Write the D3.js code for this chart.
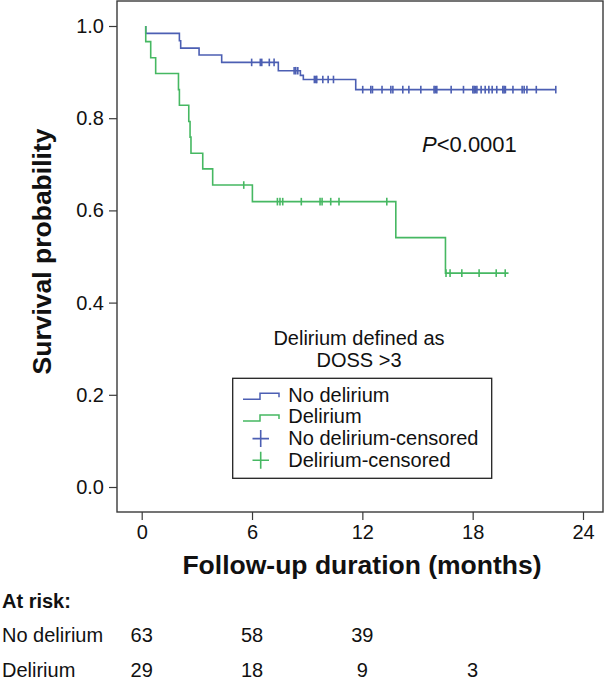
<!DOCTYPE html>
<html>
<head>
<meta charset="utf-8">
<script src="https://cdn.jsdelivr.net/npm/d3@7"></script>
<style>
  html, body { margin: 0; padding: 0; background: #fff; }
  svg { display: block; font-family: "Liberation Sans", Arial, Helvetica, sans-serif; }
</style>
</head>
<body>
<svg id="chart" width="608" height="687"></svg>
<script>
// ---- data ----
const xTicks = [0, 6, 12, 18, 24];
const yTicks = [0.0, 0.2, 0.4, 0.6, 0.8, 1.0];

const noDelStart = 0.22;
const noDelEventTimes = [0.22, 2.05, 2.12, 3.12, 4.35, 7.43, 8.63, 8.79, 11.64];
const noDelEventSurv  = [0.984, 0.968, 0.952, 0.937, 0.921, 0.903, 0.893, 0.884, 0.862];
const noDelCensor = [5.98, 6.45, 6.53, 6.94, 7.2, 8.29, 8.38, 8.49, 9.39, 9.47, 9.52, 9.85, 10.14, 10.43,
  12.02, 12.46, 12.55, 13.07, 13.55, 13.66, 14.20, 14.53, 15.18, 15.90, 15.97, 16.05, 16.83, 17.50,
  18.01, 18.08, 18.15, 18.23, 18.46, 18.68, 18.88, 19.06, 19.31, 19.64, 19.71, 19.78, 20.19, 20.69,
  20.80, 20.95, 21.46, 22.52];
const noDelEnd = 22.52;

const delStart = 0.22;
const delEventTimes = [0.22, 0.49, 0.76, 2.0, 2.05, 2.56, 2.63, 2.68, 3.32, 3.86, 6.02, 13.82, 16.52];
const delEventSurv  = [0.966, 0.931, 0.897, 0.862, 0.828, 0.793, 0.759, 0.724, 0.690, 0.655, 0.619, 0.541, 0.464];
const delCensor = [5.55, 7.38, 7.52, 7.67, 8.68, 9.70, 9.81, 10.28, 10.73, 13.33, 16.55, 16.77, 17.41, 18.35, 19.28, 19.77];
const delEnd = 19.95;

const riskGroups = ["No delirium", "Delirium"];
const riskTimes = [0, 6, 12, 18];
const riskNoDel = [63, 58, 39, null];
const riskDel = [29, 18, 9, 3];

const legendTitle = ["Delirium defined as", "DOSS >3"];
const legendLabels = ["No delirium", "Delirium", "No delirium-censored", "Delirium-censored"];
const pText = ["P", "<0.0001"];

// ---- layout ----
const BLUE = "#4c5fb3", GREEN = "#46b862";
const frame = { left: 117, right: 603, top: 1, bottom: 512 };
const svg = d3.select("#chart");

const x = d3.scaleLinear().domain([0, 24]).range([141.7, 583]);
const y = d3.scaleLinear().domain([0, 1]).range([487, 26]);

// frame
svg.append("rect")
  .attr("x", frame.left).attr("y", frame.top)
  .attr("width", frame.right - frame.left).attr("height", frame.bottom - frame.top)
  .attr("fill", "none").attr("stroke", "#3a3a3a").attr("stroke-width", 1.4);

// y axis
const yAxis = d3.axisLeft(y).tickValues(yTicks).tickFormat(d3.format(".1f")).tickSize(8).tickPadding(5);
const gy = svg.append("g").attr("transform", `translate(${frame.left},0)`).call(yAxis);
gy.select(".domain").remove();
gy.selectAll(".tick line").attr("stroke", "#3a3a3a").attr("stroke-width", 1.2);
gy.selectAll(".tick text").attr("font-size", 20).attr("fill", "#111")
  .attr("font-family", "Liberation Sans, Arial, sans-serif");

// x axis
const xAxis = d3.axisBottom(x).tickValues(xTicks).tickFormat(d3.format("d")).tickSize(8).tickPadding(5);
const gx = svg.append("g").attr("transform", `translate(0,${frame.bottom})`).call(xAxis);
gx.select(".domain").remove();
gx.selectAll(".tick line").attr("stroke", "#3a3a3a").attr("stroke-width", 1.2);
gx.selectAll(".tick text").attr("font-size", 20).attr("fill", "#111")
  .attr("font-family", "Liberation Sans, Arial, sans-serif");

// axis titles
svg.append("text")
  .attr("transform", "translate(51,251.5) rotate(-90)")
  .attr("text-anchor", "middle").attr("font-size", 26.5).attr("font-weight", "bold")
  .attr("fill", "#111").text("Survival probability");
svg.append("text")
  .attr("x", 362).attr("y", 574)
  .attr("text-anchor", "middle").attr("font-size", 26.5).attr("font-weight", "bold")
  .attr("fill", "#111").text("Follow-up duration (months)");

// curves
function stepPoints(start, times, surv, end) {
  const pts = [[start, 1.0]];
  times.forEach((t, i) => pts.push([t, surv[i]]));
  pts.push([end, surv[surv.length - 1]]);
  return pts;
}
function survAt(t, times, surv) {
  let s = 1.0;
  times.forEach((tt, i) => { if (tt <= t) s = surv[i]; });
  return s;
}
const line = d3.line().x(d => x(d[0])).y(d => y(d[1])).curve(d3.curveStepAfter);

const series = [
  { color: BLUE, start: noDelStart, times: noDelEventTimes, surv: noDelEventSurv, end: noDelEnd, cens: noDelCensor },
  { color: GREEN, start: delStart, times: delEventTimes, surv: delEventSurv, end: delEnd, cens: delCensor }
];
series.forEach(s => {
  svg.append("path")
    .datum(stepPoints(s.start, s.times, s.surv, s.end))
    .attr("d", line).attr("fill", "none")
    .attr("stroke", s.color).attr("stroke-width", 1.6);
  svg.append("g").selectAll("line").data(s.cens).join("line")
    .attr("x1", d => x(d)).attr("x2", d => x(d))
    .attr("y1", d => y(survAt(d, s.times, s.surv)) - 3.8)
    .attr("y2", d => y(survAt(d, s.times, s.surv)) + 3.8)
    .attr("stroke", s.color).attr("stroke-width", 1.6);
});

// P value
const pt = svg.append("text").attr("x", 422).attr("y", 152).attr("font-size", 22).attr("fill", "#111");
pt.append("tspan").attr("font-style", "italic").text(pText[0]);
pt.append("tspan").text(pText[1]);

// legend title
legendTitle.forEach((t, i) => {
  svg.append("text").attr("x", 359).attr("y", 345 + i * 21.7)
    .attr("text-anchor", "middle").attr("font-size", 20).attr("fill", "#111").text(t);
});

// legend box
svg.append("rect").attr("x", 232.7).attr("y", 378.3).attr("width", 259).attr("height", 100)
  .attr("fill", "none").attr("stroke", "#222").attr("stroke-width", 1.3);

const legColors = [BLUE, GREEN, BLUE, GREEN];
legendLabels.forEach((lab, i) => {
  const by = 401.7 + i * 21.7;
  svg.append("text").attr("x", 288.3).attr("y", by).attr("font-size", 20).attr("fill", "#111").text(lab);
  const cy = by - 6.5;
  if (i < 2) {
    svg.append("path")
      .attr("d", `M243,${cy + 4} H260 V${cy - 2} H279 V${cy + 2}`)
      .attr("fill", "none").attr("stroke", legColors[i]).attr("stroke-width", 1.5);
  } else {
    svg.append("path")
      .attr("d", `M252.5,${cy} H269 M260.7,${cy - 8.5} V${cy + 8.5}`)
      .attr("fill", "none").attr("stroke", legColors[i]).attr("stroke-width", 1.6);
  }
});

// at-risk table
svg.append("text").attr("x", 2).attr("y", 608.3).attr("font-size", 20).attr("font-weight", "bold")
  .attr("fill", "#111").text("At risk:");
const riskRows = [riskNoDel, riskDel];
riskGroups.forEach((g, gi) => {
  const by = 641.7 + gi * 35;
  svg.append("text").attr("x", 2).attr("y", by).attr("font-size", 20).attr("fill", "#111").text(g);
  riskRows[gi].forEach((n, i) => {
    if (n === null) return;
    svg.append("text").attr("x", x(riskTimes[i])).attr("y", by)
      .attr("text-anchor", "middle").attr("font-size", 20).attr("fill", "#111").text(n);
  });
});
</script>
</body>
</html>
